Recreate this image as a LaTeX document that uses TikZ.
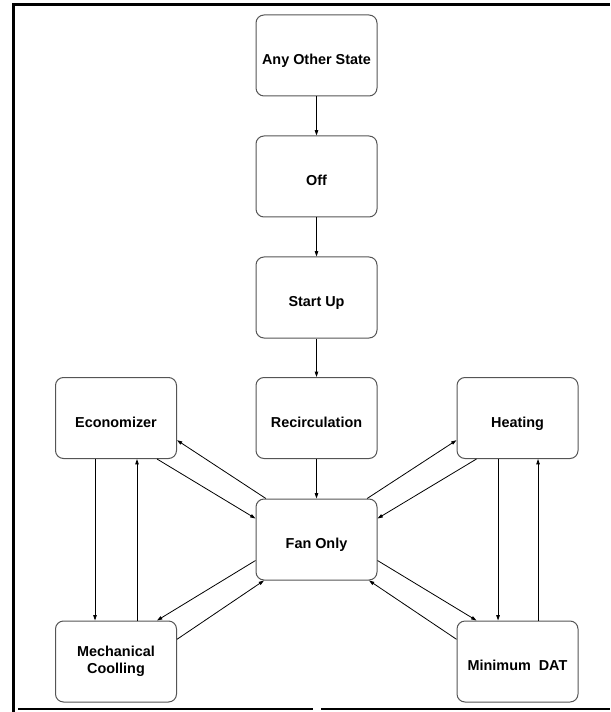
\documentclass[tikz,border=0pt]{standalone}
\usepackage{fontspec}
\setmainfont{Liberation Sans}
\usepackage{tikz}
\usetikzlibrary{arrows.meta}

\tikzset{
  state/.style={draw={rgb,255:red,85;green,85;blue,85}, line width=0.75pt, rounded corners=6pt,
    minimum width=90.75pt, minimum height=60.75pt, inner sep=0pt, align=center,
    font=\fontsize{10.8}{12.5}\selectfont\bfseries, text height=13.7pt, text depth=0pt},
  trans/.style={line width=0.6pt, -{Triangle[length=4pt,width=2.6pt]}}
}

\begin{document}
\begin{tikzpicture}[x=0.75pt,y=0.75pt,yscale=-1,xscale=1]
\useasboundingbox (0,0) rectangle (610,712);
% frame
\draw [line width=2.25pt] (13.5,712) -- (13.5,4.5) -- (610,4.5) ;
\draw [line width=1.5pt] (18,709) -- (313,709) ;
\draw [line width=1.5pt] (321,709) -- (610,709) ;
% states
\node [state] (any) at (316.5,55.5) {Any Other State};
\node [state] (off) at (316.5,176.5) {Off};
\node [state] (start) at (316.5,297.5) {Start Up};
\node [state] (recirc) at (316.5,418) {Recirculation};
\node [state] (econ) at (116,418) {Economizer};
\node [state] (heat) at (517.5,418) {Heating};
\node [state] (fan) at (316.5,539.5) {Fan Only};
\node [state, text height=, text depth=] (mech) at (116,661.5) {Mechanical\\Coolling};
\node [state] (mindat) at (517.5,661.5) {Minimum~~DAT};
% main line
\draw [trans] (any) -- (off) ;
\draw [trans] (off) -- (start) ;
\draw [trans] (start) -- (recirc) ;
\draw [trans] (recirc) -- (fan) ;
% fan only <-> upper states
\draw [trans] (econ.-45) -- (fan.161) ;
\draw [trans] (fan.141) -- (econ.-20) ;
\draw [trans] (fan.39) -- (heat.-160) ;
\draw [trans] (heat.-135) -- (fan.19) ;
% fan only <-> lower states
\draw [trans] (fan.-161) -- (mech.45) ;
\draw [trans] (mech.20) -- (fan.-142) ;
\draw [trans] (fan.-19) -- (mindat.135) ;
\draw [trans] (mindat.160) -- (fan.-38) ;
% side pairs
\draw [trans] ([xshift=-15.75pt]econ.south) -- ([xshift=-15.75pt]mech.north) ;
\draw [trans] ([xshift=15.75pt]mech.north) -- ([xshift=15.75pt]econ.south) ;
\draw [trans] ([xshift=-14.6pt]heat.south) -- ([xshift=-14.6pt]mindat.north) ;
\draw [trans] ([xshift=15.4pt]mindat.north) -- ([xshift=15.4pt]heat.south) ;
\end{tikzpicture}
\end{document}
